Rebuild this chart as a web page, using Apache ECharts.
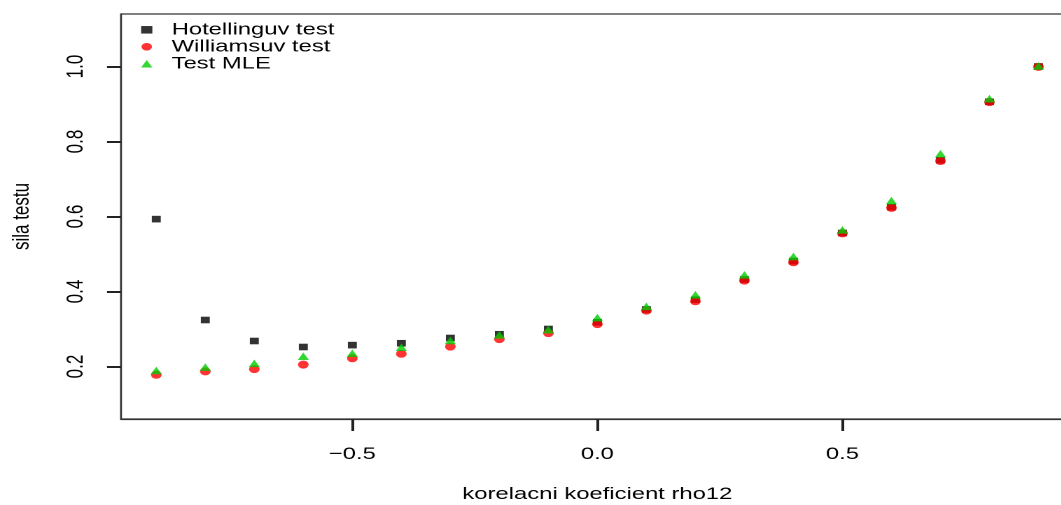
<!DOCTYPE html>
<html>
<head>
<meta charset="utf-8">
<script src="https://cdn.jsdelivr.net/npm/echarts@6/dist/echarts.min.js"></script>
<style>
html, body { margin: 0; padding: 0; overflow: hidden; background: #fff; }
/* the original R device has wide glyphs and symbols: draw narrow, then stretch horizontally */
#chartDiv { width: 757.86px; height: 505px; transform: scaleX(1.4); transform-origin: 0 0; }
</style>
</head>
<body>
<div id="chartDiv"></div>
<script>
var rho = [-0.9, -0.8, -0.7, -0.6, -0.5, -0.4, -0.3, -0.2, -0.1, 0.0,
           0.1, 0.2, 0.3, 0.4, 0.5, 0.6, 0.7, 0.8, 0.9];
var hotelling = [0.593, 0.324, 0.268, 0.252, 0.257, 0.262, 0.276, 0.286, 0.300, 0.318,
                 0.352, 0.378, 0.432, 0.481, 0.556, 0.625, 0.750, 0.906, 1.000];
var williams = [0.178, 0.187, 0.193, 0.205, 0.222, 0.234, 0.253, 0.273, 0.289, 0.313,
                0.349, 0.374, 0.429, 0.478, 0.555, 0.623, 0.748, 0.905, 0.999];
var mle = [0.186, 0.195, 0.205, 0.224, 0.232, 0.248, 0.266, 0.281, 0.295, 0.327,
           0.357, 0.388, 0.441, 0.490, 0.561, 0.639, 0.764, 0.911, 0.998];
var seriesNames = ['Hotellinguv test', 'Williamsuv test', 'Test MLE'];
var xTicks = [-0.5, 0.0, 0.5];
var yTicks = [0.2, 0.4, 0.6, 0.8, 1.0];

var font = '"Liberation Sans", Arial, Helvetica, sans-serif';

function pairs(values) {
    var out = [];
    for (var i = 0; i < rho.length; i++) {
        out.push([rho[i], values[i]]);
    }
    return out;
}

var myChart = echarts.init(document.getElementById('chartDiv'), null, {devicePixelRatio: 2});

myChart.setOption({
    animation: false,
    backgroundColor: '#fff',
    textStyle: {fontFamily: font},
    grid: {
        left: 86.43,
        right: -8.97,
        top: 14,
        bottom: 86,
        outerBoundsMode: 'none',
        show: true,
        borderColor: '#333',
        borderWidth: 1.2
    },
    legend: {
        orient: 'vertical',
        left: 100.8,
        top: 21.3,
        padding: 0,
        itemGap: 0,
        itemWidth: 8,
        itemHeight: 7.5,
        selectedMode: false,
        textStyle: {fontFamily: font, fontSize: 17, color: '#000', lineHeight: 16, padding: [0, 0, 0, 8.8]},
        data: seriesNames
    },
    xAxis: {
        type: 'value',
        min: -0.972,
        max: 0.972,
        name: 'korelacni koeficient rho12',
        nameLocation: 'middle',
        nameGap: 67,
        nameTextStyle: {fontFamily: font, fontSize: 17, color: '#000'},
        axisLine: {show: true, onZero: false, lineStyle: {color: '#333', width: 1.2}},
        splitLine: {show: false},
        // thin (width 1) ticks at the grid edge do not show in this build
        axisTick: {show: true, customValues: xTicks, length: 12, lineStyle: {color: '#222', width: 2}},
        axisLabel: {
            customValues: xTicks,
            margin: 27,
            fontFamily: font,
            fontSize: 17,
            color: '#000',
            formatter: function (v) {
                return (v < 0 ? '\u2212' : '') + Math.abs(v).toFixed(1);
            }
        }
    },
    yAxis: {
        type: 'value',
        min: 0.06,
        max: 1.14,
        name: 'sila testu',
        nameLocation: 'middle',
        nameGap: 62,
        nameTextStyle: {fontFamily: font, fontSize: 17, color: '#000'},
        axisLine: {show: true, onZero: false, lineStyle: {color: '#333', width: 1.2}},
        splitLine: {show: false},
        axisTick: {show: true, customValues: yTicks, length: 10, lineStyle: {color: '#222', width: 2}},
        axisLabel: {
            customValues: yTicks,
            rotate: 90,
            margin: 23.5,
            fontFamily: font,
            fontSize: 17,
            color: '#000',
            formatter: function (v) { return v.toFixed(1); }
        }
    },
    series: [
        {
            name: seriesNames[0],
            type: 'scatter',
            symbol: 'rect',
            symbolSize: [6.4, 6.6],
            itemStyle: {color: '#000000'},
            data: pairs(hotelling)
        },
        {
            name: seriesNames[1],
            type: 'scatter',
            symbol: 'circle',
            symbolSize: [7.6, 8],
            itemStyle: {color: '#ff0000'},
            data: pairs(williams)
        },
        {
            name: seriesNames[2],
            type: 'scatter',
            symbol: 'triangle',
            symbolSize: [8, 7.5],
            symbolOffset: [0, -1.25],
            itemStyle: {color: '#00cd00'},
            data: pairs(mle)
        }
    ]
});
</script>
</body>
</html>
